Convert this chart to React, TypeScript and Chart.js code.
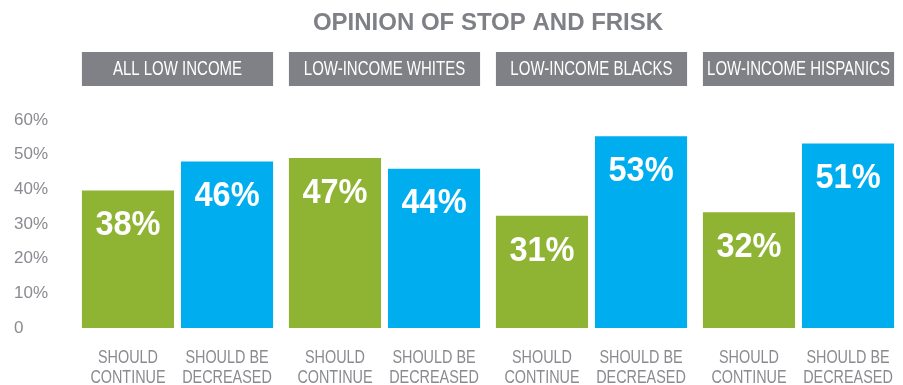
import React, { useEffect, useRef } from 'react';
import { Chart, registerables } from 'chart.js';

Chart.register(...registerables);

const chartTitle = 'OPINION OF STOP AND FRISK';
const groups = ['ALL LOW INCOME', 'LOW-INCOME WHITES', 'LOW-INCOME BLACKS', 'LOW-INCOME HISPANICS'];
const continueValues = [38, 47, 31, 32];
const decreasedValues = [46, 44, 53, 51];
const seriesNames = ['Should continue', 'Should be decreased'];
const seriesLabelLines = [
  ['SHOULD', 'CONTINUE'],
  ['SHOULD BE', 'DECREASED'],
];
const tickMin = 0;
const tickMax = 60;
const tickStep = 10;

const GREEN = '#8fb332';
const BLUE = '#00aeef';
const GREY = '#808186';
const TEXT_GREY = '#8a8b90';
const FONT = '"Liberation Sans", Arial, sans-serif';

function drawScaled(
  ctx: CanvasRenderingContext2D,
  text: string,
  cx: number,
  cy: number,
  font: string,
  sx: number,
  color: string
) {
  ctx.save();
  ctx.font = font;
  ctx.fillStyle = color;
  ctx.textAlign = 'center';
  ctx.textBaseline = 'middle';
  ctx.translate(cx, cy);
  ctx.scale(sx, 1);
  ctx.fillText(text, 0, 0);
  ctx.restore();
}

const decorPlugin = {
  id: 'decor',
  afterDatasetsDraw(chart: any) {
    const ctx: CanvasRenderingContext2D = chart.ctx;
    const area = chart.chartArea;
    const metas = [chart.getDatasetMeta(0), chart.getDatasetMeta(1)];
    const values = [continueValues, decreasedValues];

    // group header boxes
    groups.forEach((g, i) => {
      const a = metas[0].data[i].getProps(['x', 'width'], true);
      const b = metas[1].data[i].getProps(['x', 'width'], true);
      const left = a.x - a.width / 2;
      const right = b.x + b.width / 2;
      const top = area.top - 68;
      const h = 34;
      ctx.save();
      ctx.fillStyle = GREY;
      ctx.fillRect(left, top, right - left, h);
      ctx.restore();
      drawScaled(ctx, g, (left + right) / 2, top + h / 2 + 0.5, `20px ${FONT}`, 0.75, '#ffffff');
    });

    // value labels and category labels
    metas.forEach((meta, s) => {
      meta.data.forEach((el: any, i: number) => {
        const p = el.getProps(['x', 'y', 'base'], true);
        drawScaled(ctx, `${values[s][i]}%`, p.x, p.y + 35, `bold 35px ${FONT}`, 0.93, '#ffffff');
        seriesLabelLines[s].forEach((line, k) => {
          drawScaled(ctx, line, p.x, p.base + 30 + k * 20, `18px ${FONT}`, 0.8, TEXT_GREY);
        });
      });
    });
  },
};

export default function App() {
  const ref = useRef<HTMLCanvasElement | null>(null);

  useEffect(() => {
    if (!ref.current) return;
    const chart = new Chart(ref.current, {
      type: 'bar',
      data: {
        labels: groups,
        datasets: [
          {
            label: seriesNames[0],
            data: continueValues,
            backgroundColor: GREEN,
            yAxisID: 'y',
            categoryPercentage: 0.957,
            barPercentage: 0.93,
          },
          {
            label: seriesNames[1],
            data: decreasedValues,
            backgroundColor: BLUE,
            yAxisID: 'y',
            categoryPercentage: 0.957,
            barPercentage: 0.93,
          },
        ],
      },
      options: {
        animation: false,
        responsive: true,
        maintainAspectRatio: false,
        events: [],
        layout: { padding: { left: 14, right: 1, top: 0, bottom: 57 } },
        plugins: {
          legend: { display: false },
          tooltip: { enabled: false },
          title: {
            display: true,
            text: chartTitle,
            fullSize: false,
            color: '#7f8085',
            font: { family: FONT, size: 24, weight: 'bold' },
            padding: { top: 9, bottom: 82.2 },
          },
        },
        scales: {
          x: { display: false },
          y: { display: false, min: 0, max: 57.5 },
          yt: {
            position: 'left',
            min: tickMin,
            max: tickMax,
            grid: { display: false },
            border: { display: false },
            afterFit(scale: any) {
              scale.width = 60;
            },
            ticks: {
              stepSize: tickStep,
              crossAlign: 'far',
              color: TEXT_GREY,
              font: { family: FONT, size: 17 },
              callback: (v: any) => (Number(v) === 0 ? '0' : `${v}%`),
            },
          },
        },
      } as any,
      plugins: [decorPlugin],
    });
    return () => chart.destroy();
  }, []);

  return (
    <div style={{ position: 'absolute', left: 0, top: 0, width: 903, height: 385 }}>
      <canvas ref={ref} />
    </div>
  );
}
